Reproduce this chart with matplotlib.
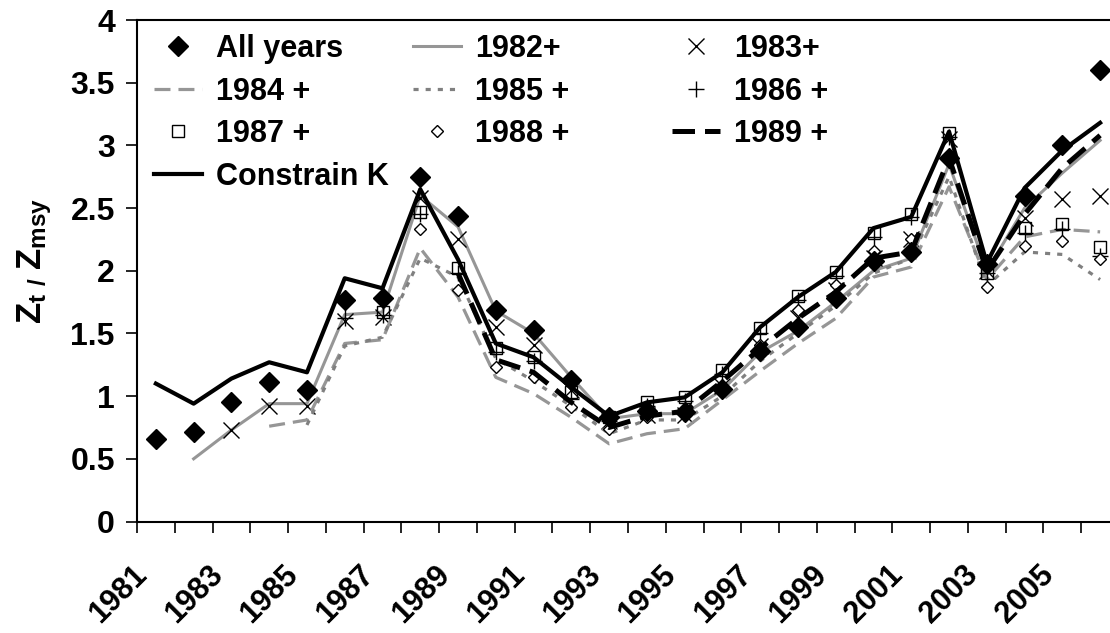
import numpy as np
import matplotlib
matplotlib.use("Agg")
import matplotlib.pyplot as plt
import matplotlib.transforms as mtransforms

plt.rcParams['font.family'] = ['Liberation Sans', 'DejaVu Sans']
plt.rcParams['font.weight'] = 'bold'
plt.rcParams['mathtext.fontset'] = 'custom'
plt.rcParams['mathtext.bf'] = 'Liberation Sans:bold'
plt.rcParams['mathtext.rm'] = 'Liberation Sans:bold'
plt.rcParams['mathtext.default'] = 'bf'

NAN = np.nan

years = list(range(1981, 2007))

all_years = [0.66, 0.71, 0.95, 1.11, 1.05, 1.77, 1.78, 2.75, 2.44, 1.69, 1.53, 1.13, 0.83,
             0.88, 0.87, 1.06, 1.36, 1.55, 1.78, 2.08, 2.15, 2.90, 2.05, 2.60, 3.00, 3.60]
from_1982 = [NAN, 0.50, 0.73, 0.94, 0.94, 1.65, 1.67, 2.60, 2.35, 1.68, 1.50, 1.15, 0.82,
             0.86, 0.86, 1.05, 1.35, 1.52, 1.75, 2.00, 2.10, 2.85, 2.00, 2.50, 2.78, 3.04]
from_1983 = [NAN, NAN, 0.73, 0.92, 0.92, 1.60, 1.63, 2.58, 2.25, 1.55, 1.41, 1.05, 0.80,
             0.85, 0.85, 1.08, 1.40, 1.62, 1.85, 2.10, 2.25, 3.05, 2.00, 2.42, 2.57, 2.60]
from_1984 = [NAN, NAN, NAN, 0.76, 0.81, 1.42, 1.45, 2.18, 1.79, 1.15, 1.02, 0.83, 0.62,
             0.70, 0.74, 0.97, 1.20, 1.42, 1.62, 1.95, 2.03, 2.67, 1.93, 2.27, 2.33, 2.31]
from_1985 = [NAN, NAN, NAN, NAN, 0.77, 1.40, 1.47, 2.10, 1.95, 1.30, 1.12, 0.92, 0.70,
             0.81, 0.81, 1.00, 1.28, 1.50, 1.72, 1.98, 2.10, 2.75, 1.88, 2.15, 2.13, 1.93]
from_1986 = [NAN, NAN, NAN, NAN, NAN, 1.62, 1.65, 2.45, 1.98, 1.35, 1.28, 0.98, 0.80,
             0.92, 0.96, 1.18, 1.50, 1.77, 1.96, 2.27, 2.43, 3.07, 1.98, 2.30, 2.33, 2.12]
from_1987 = [NAN, NAN, NAN, NAN, NAN, NAN, 1.67, 2.47, 2.02, 1.38, 1.31, 1.03, 0.83,
             0.95, 0.99, 1.21, 1.54, 1.80, 1.99, 2.30, 2.45, 3.10, 1.98, 2.34, 2.37, 2.19]
from_1988 = [NAN, NAN, NAN, NAN, NAN, NAN, NAN, 2.33, 1.85, 1.23, 1.15, 0.91, 0.74,
             0.83, 0.85, 1.07, 1.41, 1.69, 1.89, 2.16, 2.25, 2.88, 1.87, 2.20, 2.24, 2.09]
from_1989 = [NAN, NAN, NAN, NAN, NAN, NAN, NAN, NAN, 1.98, 1.29, 1.19, 0.95, 0.75,
             0.84, 0.88, 1.12, 1.38, 1.62, 1.83, 2.10, 2.15, 2.90, 2.00, 2.45, 2.82, 3.08]
constrain_k = [1.10, 0.94, 1.14, 1.27, 1.19, 1.94, 1.86, 2.65, 2.09, 1.42, 1.31, 1.07, 0.84,
               0.95, 0.99, 1.19, 1.55, 1.79, 1.99, 2.34, 2.43, 3.11, 2.06, 2.66, 2.96, 3.18]

GRAY = "#969696"
DARK_GRAY = "#808080"
FS = 22

fig = plt.figure(figsize=(11.1, 6.33), dpi=100)
ax = fig.add_axes([137 / 1110, (633 - 521.5) / 633, 982 / 1110, 501.5 / 633])

x = np.arange(len(years))

h_all, = ax.plot(x, all_years, linestyle='none', marker='D', ms=10, color='black',
                 label='All years', zorder=5)
h_82, = ax.plot(x, from_1982, color=GRAY, lw=2.2, label='1982+')
h_83, = ax.plot(x, from_1983, linestyle='none', marker='x', ms=11, mew=1.0,
                color='black', label='1983+')
h_84, = ax.plot(x, from_1984, color=GRAY, lw=2.3, dashes=(5, 2.5), label='1984 +')
h_85, = ax.plot(x, from_1985, color=DARK_GRAY, lw=2.3, dashes=(1.6, 2.2), label='1985 +')
h_86, = ax.plot(x, from_1986, linestyle='none', marker='+', ms=11, mew=1.0,
                color='black', label='1986 +')
h_87, = ax.plot(x, from_1987, linestyle='none', marker='s', ms=8.5, mew=1.0,
                mfc='none', mec='black', label='1987 +')
h_88, = ax.plot(x, from_1988, linestyle='none', marker='D', ms=6.5, mew=1.0,
                mfc='white', mec='black', label='1988 +')
h_89, = ax.plot(x, from_1989, color='black', lw=3.6, dashes=(4.5, 2), label='1989 +')
h_k, = ax.plot(x, constrain_k, color='black', lw=3.0, label='Constrain K')

ax.set_xlim(-0.5, len(years) - 0.5)
ax.set_ylim(0, 4)
ax.set_yticks(np.arange(0, 4.01, 0.5))
ax.set_yticklabels(['0', '0.5', '1', '1.5', '2', '2.5', '3', '3.5', '4'])
ax.tick_params(axis='y', direction='out', length=8, width=1.2, labelsize=23, pad=8)

ax.set_xticks(np.arange(-0.5, len(years), 1))
ax.set_xticklabels([])
ax.tick_params(axis='x', which='major', direction='out', length=8, width=1.2)
ax.set_xticks(x[::2], [str(y) for y in years[::2]], minor=True)
ax.tick_params(axis='x', which='minor', length=0, labelsize=FS, pad=0)

offset = mtransforms.ScaledTranslation(-13 / 100, -49 / 100, fig.dpi_scale_trans)
for lab in ax.get_xticklabels(minor=True):
    lab.set_rotation(45)
    lab.set_ha('right')
    lab.set_va('center')
    lab.set_rotation_mode('anchor')
    lab.set_transform(lab.get_transform() + offset)

for sp in ax.spines.values():
    sp.set_linewidth(1.5)

ax.set_ylabel(r'$Z_{t\ /\ }Z_{msy}$', fontsize=25)
ax.yaxis.set_label_coords(-0.085, 0.52)

legend_kw = dict(frameon=False, prop={'weight': 'bold', 'size': FS}, numpoints=1,
                 handlelength=1.57, handletextpad=0.45, labelspacing=0.41,
                 borderpad=0, borderaxespad=0, loc='upper left')
top = 1 - 34 / 633
leg1 = fig.legend(handles=[h_all, h_84, h_87, h_k], bbox_to_anchor=(154 / 1110, top),
                  **legend_kw)
leg2 = fig.legend(handles=[h_82, h_85, h_88], bbox_to_anchor=(413 / 1110, top),
                  **legend_kw)
leg3 = fig.legend(handles=[h_83, h_86, h_89], bbox_to_anchor=(672 / 1110, top),
                  **legend_kw)

fig.savefig('out.png', dpi=100)
